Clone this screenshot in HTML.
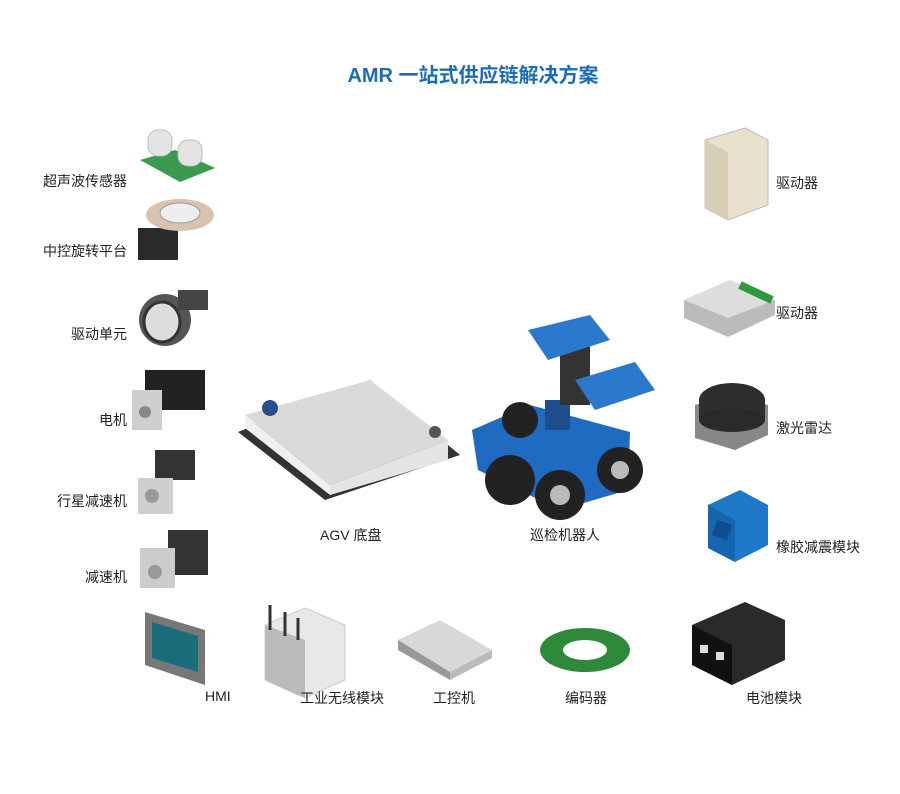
<!DOCTYPE html>
<html><head><meta charset="utf-8"><style>
html,body{margin:0;padding:0;background:#fff;}
body{width:900px;height:794px;position:relative;overflow:hidden;font-family:"Liberation Sans","Noto Sans CJK SC",sans-serif;}
.t{position:absolute;font-size:14px;color:#222;white-space:nowrap;line-height:16px;}
.r{text-align:right;width:120px;}
h1{position:absolute;left:0;width:946px;top:59px;margin:0;text-align:center;font-size:20px;color:#1a6cb8;font-weight:bold;}
svg{position:absolute;left:0;top:0;}
</style></head><body>
<h1>AMR 一站式供应链解决方案</h1>
<svg width="900" height="794" viewBox="0 0 900 794">
<!-- ultrasonic -->
<polygon points="140,160 175,150 215,168 180,182" fill="#3a9a50"/>
<rect x="148" y="130" width="24" height="26" rx="10" fill="#e4e4e4" stroke="#bbb"/>
<rect x="178" y="140" width="24" height="26" rx="10" fill="#e4e4e4" stroke="#bbb"/>
<!-- rotary platform -->
<rect x="138" y="228" width="40" height="32" fill="#2b2b2b"/>
<ellipse cx="180" cy="215" rx="34" ry="16" fill="#d9c3b0"/>
<ellipse cx="180" cy="213" rx="20" ry="10" fill="#eee" stroke="#999"/>
<!-- drive unit -->
<ellipse cx="165" cy="320" rx="26" ry="26" fill="#555"/>
<ellipse cx="162" cy="322" rx="18" ry="20" fill="#ddd" stroke="#333" stroke-width="3"/>
<rect x="178" y="290" width="30" height="20" fill="#444"/>
<!-- motor -->
<rect x="145" y="370" width="60" height="40" fill="#222"/>
<rect x="132" y="390" width="30" height="40" fill="#cfcfcf"/>
<circle cx="145" cy="412" r="6" fill="#888"/>
<!-- planetary -->
<rect x="155" y="450" width="40" height="30" fill="#333"/>
<rect x="138" y="478" width="35" height="36" fill="#cfcfcf"/>
<circle cx="152" cy="496" r="7" fill="#999"/>
<!-- reducer -->
<rect x="168" y="530" width="40" height="45" fill="#333"/>
<rect x="140" y="548" width="35" height="40" fill="#ccc"/>
<circle cx="155" cy="572" r="7" fill="#999"/>
<!-- HMI -->
<polygon points="145,612 205,630 205,685 145,665" fill="#777"/>
<polygon points="152,622 198,636 198,672 152,658" fill="#1a6d7a"/>
<!-- wireless module -->
<polygon points="265,625 305,608 345,625 345,680 305,698 265,680" fill="#e8e8e8" stroke="#ccc"/>
<polygon points="265,625 305,640 305,698 265,680" fill="#bbb"/>
<line x1="270" y1="630" x2="270" y2="605" stroke="#333" stroke-width="3"/>
<line x1="285" y1="636" x2="285" y2="612" stroke="#333" stroke-width="3"/>
<line x1="298" y1="640" x2="298" y2="618" stroke="#333" stroke-width="3"/>
<!-- IPC -->
<polygon points="398,640 440,620 492,650 450,672" fill="#d8d8d8"/>
<polygon points="398,640 450,672 450,680 398,650" fill="#999"/>
<polygon points="450,672 492,650 492,658 450,680" fill="#bbb"/>
<!-- encoder -->
<ellipse cx="585" cy="650" rx="45" ry="22" fill="#2e8a3a"/>
<ellipse cx="585" cy="650" rx="22" ry="10" fill="#fff"/>
<!-- battery -->
<polygon points="692,625 745,602 785,620 785,660 732,685 692,665" fill="#2a2a2a"/>
<polygon points="692,625 732,645 732,685 692,665" fill="#111"/>
<rect x="700" y="645" width="8" height="8" fill="#ddd"/><rect x="716" y="652" width="8" height="8" fill="#ddd"/>
<!-- drivers right -->
<polygon points="705,140 745,128 768,140 768,205 728,220 705,208" fill="#e9e1cd" stroke="#bbb"/>
<polygon points="705,140 728,152 728,220 705,208" fill="#d8ceb5"/>
<polygon points="684,300 730,280 775,300 775,315 728,337 684,318" fill="#bbb"/>
<polygon points="684,300 730,280 775,300 728,318" fill="#ddd"/>
<line x1="740" y1="285" x2="772" y2="300" stroke="#2c9a3a" stroke-width="8"/>
<!-- lidar -->
<polygon points="695,405 730,395 768,405 768,435 735,450 695,438" fill="#888"/>
<ellipse cx="732" cy="400" rx="33" ry="17" fill="#2e2e2e"/>
<rect x="699" y="400" width="66" height="20" fill="#2e2e2e"/>
<ellipse cx="732" cy="420" rx="33" ry="12" fill="#2a2a2a"/>
<!-- rubber -->
<polygon points="708,505 740,490 768,505 768,545 735,562 708,548" fill="#1e7ac8"/>
<polygon points="708,505 735,520 735,562 708,548" fill="#1565b0"/>
<rect x="714" y="522" width="16" height="16" fill="#0f4e8c" transform="rotate(20 722 530)"/>
<!-- AGV -->
<polygon points="238,432 370,380 460,455 325,500" fill="#333"/>
<polygon points="245,415 370,380 448,440 330,485" fill="#dadada"/>
<polygon points="245,415 330,485 330,495 245,428" fill="#f0f0f0"/>
<polygon points="330,485 448,440 448,460 330,495" fill="#e4e4e4"/>
<circle cx="270" cy="408" r="8" fill="#2a4d8c"/>
<circle cx="435" cy="432" r="6" fill="#555"/>
<!-- robot -->
<polygon points="472,430 530,405 630,432 628,490 560,510 478,470" fill="#1f6bc2"/>
<circle cx="510" cy="480" r="25" fill="#222"/><circle cx="560" cy="495" r="25" fill="#222"/>
<circle cx="620" cy="470" r="23" fill="#222"/><circle cx="520" cy="420" r="18" fill="#222"/>
<circle cx="560" cy="495" r="10" fill="#bbb"/><circle cx="620" cy="470" r="9" fill="#bbb"/>
<rect x="545" y="400" width="25" height="30" fill="#1f4e8c"/>
<rect x="560" y="345" width="30" height="60" fill="#333"/>
<polygon points="528,330 590,315 610,340 548,360" fill="#2b79cc"/>
<polygon points="575,380 635,362 655,390 595,410" fill="#2b79cc"/>
</svg>
<div class="t r" style="left:7px;top:173px">超声波传感器</div>
<div class="t r" style="left:7px;top:243px">中控旋转平台</div>
<div class="t r" style="left:7px;top:326px">驱动单元</div>
<div class="t r" style="left:7px;top:412px">电机</div>
<div class="t r" style="left:7px;top:493px">行星减速机</div>
<div class="t r" style="left:7px;top:569px">减速机</div>
<div class="t" style="left:776px;top:175px">驱动器</div>
<div class="t" style="left:776px;top:305px">驱动器</div>
<div class="t" style="left:776px;top:420px">激光雷达</div>
<div class="t" style="left:776px;top:539px">橡胶减震模块</div>
<div class="t" style="left:320px;top:527px">AGV 底盘</div>
<div class="t" style="left:530px;top:527px">巡检机器人</div>
<div class="t" style="left:205px;top:688px">HMI</div>
<div class="t" style="left:300px;top:690px">工业无线模块</div>
<div class="t" style="left:433px;top:690px">工控机</div>
<div class="t" style="left:565px;top:690px">编码器</div>
<div class="t" style="left:746px;top:690px">电池模块</div>
</body></html>
